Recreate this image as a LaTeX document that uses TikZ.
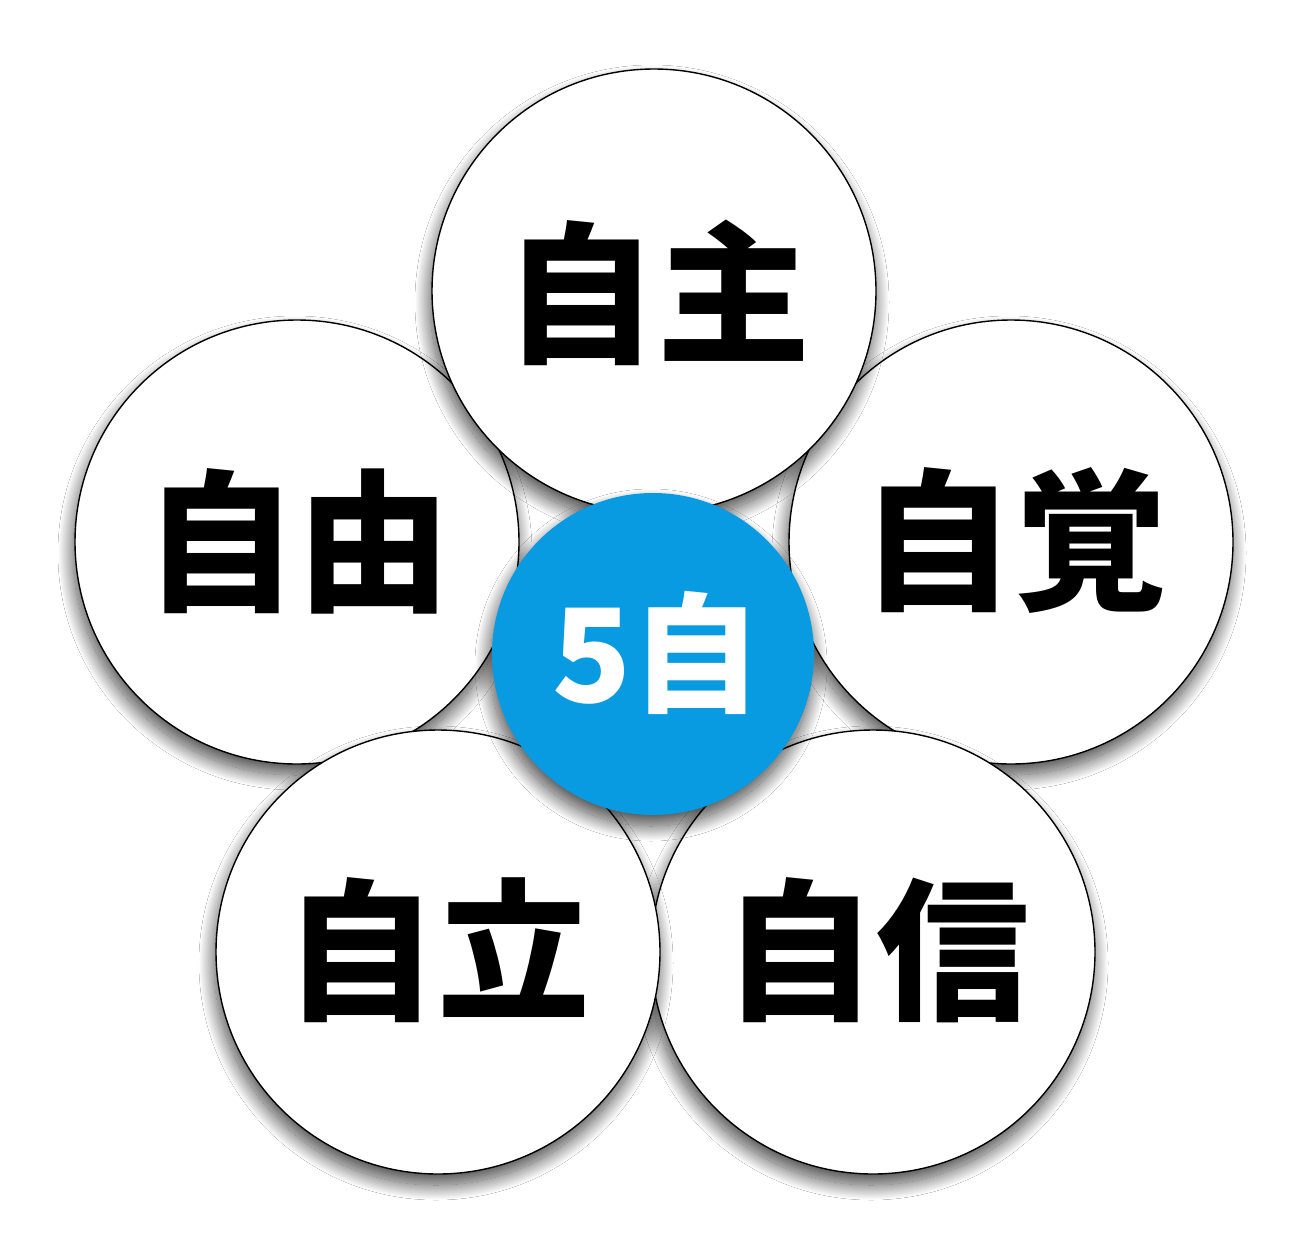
\documentclass[tikz,border=0pt]{standalone}
\usepackage{fontspec}
\newfontfamily\cjk{Noto Sans CJK JP}
\usetikzlibrary{shadows.blur}
\definecolor{centreblue}{RGB}{8,155,226}
\begin{document}
\begin{tikzpicture}[x=1pt,y=-1pt,
  softshade/.style={blur shadow={shadow xshift=-2pt, shadow yshift=-11pt, shadow blur radius=15pt, shadow blur steps=40, shadow opacity=72}},
  petal/.style={circle, draw=black, line width=1.4pt, fill=white, minimum size=444pt, inner sep=0pt, softshade},
  hub/.style={circle, fill=centreblue, minimum size=322pt, inner sep=0pt, softshade},
  bigword/.style={inner sep=0pt, text=black, font=\cjk\bfseries\fontsize{153}{153}\selectfont},
  hubword/.style={inner sep=0pt, text=white, font=\cjk\bfseries\fontsize{130}{130}\selectfont}]
\useasboundingbox (0,0) rectangle (1309,1250);
\fill[white] (0,0) rectangle (1309,1250);
% circles, back to front
\node[petal] (kaku) at (1011,542) {};
\node[petal] (yuu) at (297,542) {};
\node[petal] (shin) at (873,952) {};
\node[petal] (ritsu) at (438,952) {};
\node[petal] (shu) at (654,291) {};
\node[hub] (hubc) at (653,654) {};
% words
\node[bigword] (tshu) at (657,293) {自主};
\node[bigword] (tyuu) at (297,541) {自由};
\node[bigword] (tkaku) at (1014,541) {自覚};
\node[bigword] (tritsu) at (437,950) {自立};
\node[bigword] (tshin) at (876,950) {自信};
\node[hubword] (thub) at (657,653) {5自};
\end{tikzpicture}
\end{document}
